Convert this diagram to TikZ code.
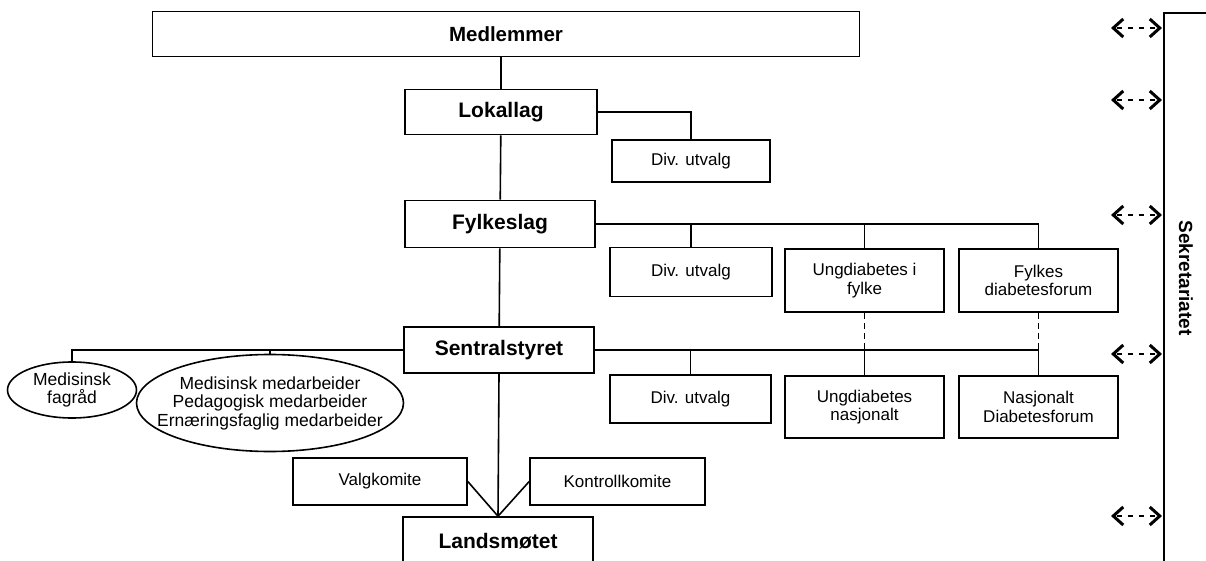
\documentclass[tikz,border=0pt]{standalone}
\usepackage{fontspec}
\setmainfont{Liberation Sans}
\usetikzlibrary{arrows.meta,positioning,shapes.geometric}

\tikzset{
  unit/.style={draw,rectangle,line width=1.6pt,inner sep=0pt,align=center,
    font=\fontsize{17}{18.5}\selectfont},
  mainunit/.style={unit,minimum width=190pt,minimum height=46pt,
    font=\fontsize{21}{23}\selectfont\bfseries},
  council/.style={draw,ellipse,line width=1.6pt,inner sep=0pt,align=center,
    font=\fontsize{17.5}{18.5}\selectfont},
  link/.style={line width=1.6pt},
  optlink/.style={line width=1.6pt,dash pattern=on 6pt off 4pt},
  secarrow/.style={line width=1.6pt,dash pattern=on 5pt off 6pt,dash phase=-2pt,
    {Straight Barb[length=10pt,width=18pt,line width=3pt]}-{Straight Barb[length=10pt,width=18pt,line width=3pt]}}
}

\begin{document}
\begin{tikzpicture}[x=1pt,y=-1pt]
  \path[use as bounding box,clip] (0,0) rectangle (1206,561);

  % hovedlinje
  \node[mainunit,minimum width=707pt,minimum height=45pt,font=\fontsize{20.5}{23}\selectfont\bfseries] (Medl) at (506,34) {Medlemmer};
  \node[mainunit,minimum width=192pt,minimum height=45pt] (Lokal) at (501,112) {Lokallag};
  \node[mainunit,minimum height=47pt] (Fylke) at (500,224) {Fylkeslag};
  \node[mainunit] (Sentral) at (499,350) {Sentralstyret};
  \node[mainunit,minimum height=48pt] (Lands) at (498,541) {Landsm\o tet};

  % utvalg og fora
  \node[unit,minimum width=158pt,minimum height=42pt] (DivA) at (691,161) {Div. utvalg};
  \node[unit,minimum width=162pt,minimum height=49pt] (DivB) at (691,272) {Div. utvalg};
  \node[unit,minimum width=159pt,minimum height=63pt] (UngF) at (864.5,280.5) {Ungdiabetes i\\fylke};
  \node[unit,minimum width=159pt,minimum height=63pt] (FylF) at (1038.5,280.5) {Fylkes\\diabetesforum};
  \node[unit,minimum width=161pt,minimum height=48pt] (DivC) at (690.5,399) {Div. utvalg};
  \node[unit,minimum width=159pt,minimum height=62pt] (UngN) at (864.5,407) {Ungdiabetes\\nasjonalt};
  \node[unit,minimum width=159pt,minimum height=62pt] (NasF) at (1038.5,407) {Nasjonalt\\Diabetesforum};

  % fagrad
  \node[council,minimum width=129pt,minimum height=56pt] (MedF) at (72,390) {Medisinsk\\fagr\aa d};
  \node[council,inner xsep=-40pt,minimum width=267pt,minimum height=97pt] (MedA) at (270,403)
    {Medisinsk medarbeider\\Pedagogisk medarbeider\\Ern\ae ringsfaglig medarbeider};

  % komiteer
  \node[unit,minimum width=174pt,minimum height=47pt] (Valg) at (380,481.5) {Valgkomite};
  \node[unit,minimum width=175pt,minimum height=47pt] (Kontr) at (617.5,481.5) {Kontrollkomite};

  % linjer
  \draw[link] (Lokal.north) -- (Lokal.north |- Medl.south);
  \draw[link] (Lokal) -- (Fylke);
  \draw[link] (Fylke) -- (Sentral);
  \draw[link] (Sentral.south) -- (Lands.north);
  \draw[link] (Lokal.east) -| (DivA.north);
  \draw[link] (Fylke.east) -| (FylF.north);
  \draw[link] (Fylke.east -| DivB.north) -- (DivB.north);
  \draw[link] (Fylke.east -| UngF.north) -- (UngF.north);
  \draw[link] (Sentral.east) -| (NasF.north);
  \draw[link] (Sentral.east -| DivC.north) -- (DivC.north);
  \draw[link] (Sentral.east -| UngN.north) -- (UngN.north);
  \draw[link] (Sentral.west) -| (MedF.north);
  \draw[link] (Sentral.west -| MedA.north) -- (MedA.north);
  \draw[optlink] (UngF.south) -- (UngF.south |- Sentral.east);
  \draw[optlink] (FylF.south) -- (FylF.south |- Sentral.east);
  \draw[link] (Valg.east) -- (Lands.north);
  \draw[link] (Kontr.west) -- (Lands.north);

  % sekretariatet
  \coordinate (secTop) at (1164,13);
  \coordinate (secEnd) at (1206,13);
  \coordinate (secBot) at (1164,561);
  \draw[link] (secEnd) -- (secTop) -- (secBot);
  \node[rotate=-90,font=\fontsize{19}{22}\selectfont\bfseries] (Sekr) at (1186,278) {Sekretariatet};
  \foreach \y [count=\i] in {28,100,215,354,516} {
    \coordinate (al\i) at (1111,\y);
    \coordinate (ar\i) at (1162,\y);
    \draw[secarrow] (al\i) -- (ar\i);
  }
\end{tikzpicture}
\end{document}
